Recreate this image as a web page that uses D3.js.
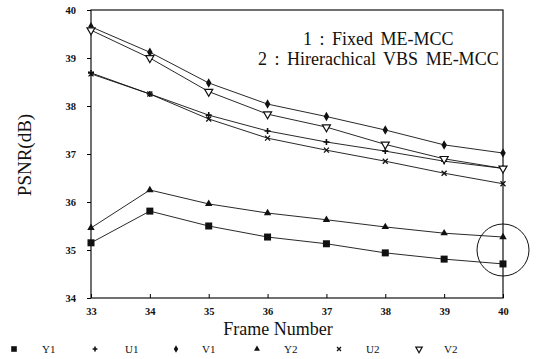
<!DOCTYPE html>
<html>
<head>
<meta charset="utf-8">
<script src="https://cdn.jsdelivr.net/npm/d3@7"></script>
<style>
  body { margin: 0; background: #fff; }
  svg { display: block; }
  svg text { font-family: "Liberation Serif", "Times New Roman", "DejaVu Serif", serif; fill: #111; }
</style>
</head>
<body>
<svg id="chart" width="539" height="359"></svg>
<script>
// frames on the x axis
const frames = [33, 34, 35, 36, 37, 38, 39, 40];
const yTicks = [34, 35, 36, 37, 38, 39, 40];

// PSNR values
const Y1 = [35.15, 35.81, 35.5, 35.27, 35.13, 34.94, 34.81, 34.71];
const U1 = [38.69, 38.25, 37.81, 37.48, 37.25, 37.06, 36.85, 36.7];
const V1 = [39.65, 39.12, 38.48, 38.04, 37.78, 37.5, 37.19, 37.02];
const Y2 = [35.46, 36.25, 35.96, 35.77, 35.63, 35.48, 35.35, 35.27];
const U2 = [38.67, 38.25, 37.73, 37.33, 37.08, 36.85, 36.6, 36.38];
const V2 = [39.58, 39.0, 38.3, 37.83, 37.56, 37.2, 36.9, 36.7];

const seriesNames = ["Y1", "U1", "V1", "Y2", "U2", "V2"];
const seriesVals = [Y1, U1, V1, Y2, U2, V2];
const seriesMarks = ["square", "plus", "diamond", "tri", "cross", "trid"];

const SERIF = "'Liberation Serif', 'Times New Roman', 'DejaVu Serif', serif";

const svg = d3.select("#chart");
const x = d3.scaleLinear().domain([33, 40]).range([91, 503]);
const y = d3.scaleLinear().domain([34, 40]).range([298, 10]);

// frame box
svg.append("rect")
  .attr("x", x(33)).attr("y", y(40))
  .attr("width", x(40) - x(33)).attr("height", y(34) - y(40))
  .attr("fill", "none").attr("stroke", "#111").attr("stroke-width", 1.2);

// axes
const yAxis = d3.axisLeft(y).tickValues(yTicks).tickFormat(d3.format("d"))
  .tickSize(4).tickPadding(11);
svg.append("g").attr("transform", `translate(${x(33)},0)`).call(yAxis)
  .attr("font-family", SERIF)
  .call(g => g.select(".domain").remove())
  .call(g => g.selectAll("text").attr("font-size", 10.5).attr("font-weight", "bold"));

const xAxis = d3.axisBottom(x).tickValues(frames).tickFormat(d3.format("d"))
  .tickSize(-4).tickPadding(10);
svg.append("g").attr("transform", `translate(0,${y(34)})`).call(xAxis)
  .attr("font-family", SERIF)
  .call(g => g.select(".domain").remove())
  .call(g => g.selectAll("text").attr("font-size", 10.5).attr("font-weight", "bold"));

// lines
const line = d3.line().x((d, i) => x(frames[i])).y(d => y(d));
seriesVals.forEach(vals => {
  svg.append("path").datum(vals).attr("d", line)
    .attr("fill", "none").attr("stroke", "#111").attr("stroke-width", 0.9);
});

function marker(g, type, cx, cy, s) {
  const k = s || 1;
  if (type === "square") {
    g.append("rect").attr("x", cx - 3.5 * k).attr("y", cy - 3.5 * k)
      .attr("width", 7 * k).attr("height", 7 * k).attr("fill", "#111");
  } else if (type === "plus") {
    g.append("path").attr("d", `M${cx - 3 * k},${cy}h${6 * k}M${cx},${cy - 3 * k}v${6 * k}`)
      .attr("stroke", "#111").attr("stroke-width", 1.6);
  } else if (type === "cross") {
    g.append("path").attr("d", `M${cx - 2.5 * k},${cy - 2.5 * k}l${5 * k},${5 * k}M${cx - 2.5 * k},${cy + 2.5 * k}l${5 * k},${-5 * k}`)
      .attr("stroke", "#111").attr("stroke-width", 1.3);
  } else if (type === "diamond") {
    g.append("path").attr("d", d3.symbol(d3.symbolDiamond, 26 * k * k)())
      .attr("transform", `translate(${cx},${cy})`).attr("fill", "#111");
  } else if (type === "tri") {
    g.append("path").attr("d", d3.symbol(d3.symbolTriangle, 24 * k * k)())
      .attr("transform", `translate(${cx},${cy})`).attr("fill", "#111");
  } else if (type === "trid") {
    g.append("path").attr("d", d3.symbol(d3.symbolTriangle, 28 * k * k)())
      .attr("transform", `translate(${cx},${cy}) rotate(180)`)
      .attr("fill", "#fff").attr("stroke", "#111").attr("stroke-width", 1.2);
  }
}

const marks = svg.append("g");
seriesVals.forEach((vals, si) => {
  vals.forEach((v, i) => marker(marks, seriesMarks[si], x(frames[i]), y(v), 1));
});

// highlight circle around frame 40 luminance values
svg.append("circle").attr("cx", x(40)).attr("cy", y(35))
  .attr("r", 26).attr("fill", "none").attr("stroke", "#111").attr("stroke-width", 1);

// method notes
svg.append("text").attr("x", 303).attr("y", 45).attr("font-size", 18)
  .attr("word-spacing", 3).text("1 : Fixed ME-MCC");
svg.append("text").attr("x", 258).attr("y", 65).attr("font-size", 18)
  .attr("word-spacing", 3).text("2 : Hirerachical VBS ME-MCC");

// axis titles
svg.append("text").attr("transform", "translate(31,155) rotate(-90)")
  .attr("text-anchor", "middle").attr("font-size", 19).text("PSNR(dB)");
svg.append("text").attr("x", 278).attr("y", 335).attr("text-anchor", "middle")
  .attr("font-size", 18).text("Frame Number");

// legend
const legMarkX = [14, 95, 176, 257, 339, 419];
const legLabX = [42, 125, 202, 284, 366, 444];
const leg = svg.append("g");
seriesNames.forEach((name, i) => {
  marker(leg, seriesMarks[i], legMarkX[i], 349, 0.8);
  leg.append("text").attr("x", legLabX[i]).attr("y", 353).attr("font-size", 11)
    .text(name);
});
</script>
</body>
</html>
